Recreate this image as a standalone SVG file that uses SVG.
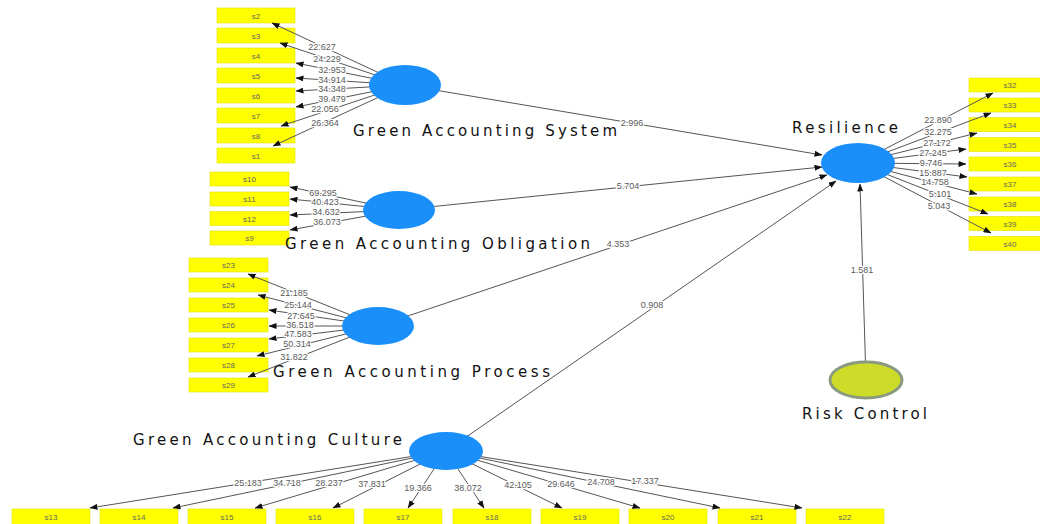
<svg xmlns="http://www.w3.org/2000/svg" width="1040" height="524" viewBox="0 0 1040 524">
<style>
.ln{stroke:#555;stroke-width:1;fill:none;marker-end:url(#ah)}
.lbl{font-family:"Liberation Sans",Arial,sans-serif;font-size:9px;fill:#5a5a5a;text-anchor:middle;stroke:#fff;stroke-width:2.5px;paint-order:stroke;stroke-linejoin:round}
.box{fill:#ffff00;stroke:#e2e200;stroke-width:0.6}
.bt{font-family:"Liberation Sans",Arial,sans-serif;font-size:8px;fill:#666;text-anchor:middle}
.lv{fill:#1a8ffa}
.rc{fill:#cddc28;stroke:#8a9a80;stroke-width:3}
.nt{font-family:"DejaVu Sans","Liberation Sans",sans-serif;font-size:15px;fill:#111}
</style>
<defs>
<marker id="ah" markerWidth="8" markerHeight="6" refX="7.5" refY="3" orient="auto" markerUnits="userSpaceOnUse"><path d="M0,0 L8,3 L0,6 z" fill="#111"/></marker>
</defs>
<rect width="1040" height="524" fill="#fff"/>
<!-- GAS indicators -->
<g id="ind-s2"><rect class="box" x="217" y="8" width="78" height="15"/><text class="bt" x="256" y="18.5">s2</text></g>
<g id="ind-s3"><rect class="box" x="217" y="28" width="78" height="15"/><text class="bt" x="256" y="38.5">s3</text></g>
<g id="ind-s4"><rect class="box" x="217" y="48" width="78" height="15"/><text class="bt" x="256" y="58.5">s4</text></g>
<g id="ind-s5"><rect class="box" x="217" y="68" width="78" height="15"/><text class="bt" x="256" y="78.5">s5</text></g>
<g id="ind-s6"><rect class="box" x="217" y="88" width="78" height="15"/><text class="bt" x="256" y="98.5">s6</text></g>
<g id="ind-s7"><rect class="box" x="217" y="108" width="78" height="15"/><text class="bt" x="256" y="118.5">s7</text></g>
<g id="ind-s8"><rect class="box" x="217" y="128" width="78" height="15"/><text class="bt" x="256" y="138.5">s8</text></g>
<g id="ind-s1"><rect class="box" x="217" y="148" width="78" height="15"/><text class="bt" x="256" y="158.5">s1</text></g>
<!-- GAO indicators -->
<g id="ind-s10"><rect class="box" x="210" y="172" width="79" height="14"/><text class="bt" x="249.5" y="182">s10</text></g>
<g id="ind-s11"><rect class="box" x="210" y="192" width="79" height="14"/><text class="bt" x="249.5" y="202">s11</text></g>
<g id="ind-s12"><rect class="box" x="210" y="211.5" width="79" height="14"/><text class="bt" x="249.5" y="221.5">s12</text></g>
<g id="ind-s9"><rect class="box" x="210" y="231" width="79" height="14"/><text class="bt" x="249.5" y="241">s9</text></g>
<!-- GAP indicators -->
<g id="ind-s23"><rect class="box" x="189" y="258" width="79" height="14"/><text class="bt" x="228.5" y="268">s23</text></g>
<g id="ind-s24"><rect class="box" x="189" y="278" width="79" height="14"/><text class="bt" x="228.5" y="288">s24</text></g>
<g id="ind-s25"><rect class="box" x="189" y="298" width="79" height="14"/><text class="bt" x="228.5" y="308">s25</text></g>
<g id="ind-s26"><rect class="box" x="189" y="318" width="79" height="14"/><text class="bt" x="228.5" y="328">s26</text></g>
<g id="ind-s27"><rect class="box" x="189" y="338" width="79" height="14"/><text class="bt" x="228.5" y="348">s27</text></g>
<g id="ind-s28"><rect class="box" x="189" y="358" width="79" height="14"/><text class="bt" x="228.5" y="368">s28</text></g>
<g id="ind-s29"><rect class="box" x="189" y="378" width="79" height="14"/><text class="bt" x="228.5" y="388">s29</text></g>
<!-- GAC indicators -->
<g id="ind-s13"><rect class="box" x="12" y="509" width="78" height="16"/><text class="bt" x="51" y="520">s13</text></g>
<g id="ind-s14"><rect class="box" x="100" y="509" width="78" height="16"/><text class="bt" x="139" y="520">s14</text></g>
<g id="ind-s15"><rect class="box" x="188" y="509" width="78" height="16"/><text class="bt" x="227" y="520">s15</text></g>
<g id="ind-s16"><rect class="box" x="276" y="509" width="78" height="16"/><text class="bt" x="315" y="520">s16</text></g>
<g id="ind-s17"><rect class="box" x="364" y="509" width="78" height="16"/><text class="bt" x="403" y="520">s17</text></g>
<g id="ind-s18"><rect class="box" x="453" y="509" width="78" height="16"/><text class="bt" x="492" y="520">s18</text></g>
<g id="ind-s19"><rect class="box" x="541" y="509" width="78" height="16"/><text class="bt" x="580" y="520">s19</text></g>
<g id="ind-s20"><rect class="box" x="629" y="509" width="78" height="16"/><text class="bt" x="668" y="520">s20</text></g>
<g id="ind-s21"><rect class="box" x="718" y="509" width="78" height="16"/><text class="bt" x="757" y="520">s21</text></g>
<g id="ind-s22"><rect class="box" x="806" y="509" width="78" height="16"/><text class="bt" x="845" y="520">s22</text></g>
<!-- Resilience indicators -->
<g id="ind-s32"><rect class="box" x="969" y="78" width="78" height="14"/><text class="bt" x="1010" y="88">s32</text></g>
<g id="ind-s33"><rect class="box" x="969" y="98" width="78" height="14"/><text class="bt" x="1010" y="108">s33</text></g>
<g id="ind-s34"><rect class="box" x="969" y="117.5" width="78" height="14"/><text class="bt" x="1010" y="127.5">s34</text></g>
<g id="ind-s35"><rect class="box" x="969" y="137.5" width="78" height="14"/><text class="bt" x="1010" y="147.5">s35</text></g>
<g id="ind-s36"><rect class="box" x="969" y="157" width="78" height="14"/><text class="bt" x="1010" y="167">s36</text></g>
<g id="ind-s37"><rect class="box" x="969" y="177" width="78" height="14"/><text class="bt" x="1010" y="187">s37</text></g>
<g id="ind-s38"><rect class="box" x="969" y="197" width="78" height="14"/><text class="bt" x="1010" y="207">s38</text></g>
<g id="ind-s39"><rect class="box" x="969" y="216.5" width="78" height="14"/><text class="bt" x="1010" y="226.5">s39</text></g>
<g id="ind-s40"><rect class="box" x="969" y="236.5" width="78" height="14"/><text class="bt" x="1010" y="246.5">s40</text></g>
<g id="connectors">
<line class="ln" x1="405" y1="85" x2="272" y2="23"/>
<line class="ln" x1="405" y1="85" x2="280" y2="43"/>
<line class="ln" x1="405" y1="85" x2="296" y2="63"/>
<line class="ln" x1="405" y1="85" x2="296" y2="78"/>
<line class="ln" x1="405" y1="85" x2="296" y2="91"/>
<line class="ln" x1="405" y1="85" x2="296" y2="107"/>
<line class="ln" x1="405" y1="85" x2="281" y2="126"/>
<line class="ln" x1="405" y1="85" x2="273" y2="146"/>
<line class="ln" x1="399" y1="210" x2="290" y2="187"/>
<line class="ln" x1="399" y1="210" x2="290" y2="199"/>
<line class="ln" x1="399" y1="210" x2="290" y2="215"/>
<line class="ln" x1="399" y1="210" x2="290" y2="230"/>
<line class="ln" x1="378" y1="326" x2="248" y2="274"/>
<line class="ln" x1="378" y1="326" x2="258" y2="295"/>
<line class="ln" x1="378" y1="326" x2="269" y2="310"/>
<line class="ln" x1="378" y1="326" x2="269" y2="326"/>
<line class="ln" x1="378" y1="326" x2="269" y2="339"/>
<line class="ln" x1="378" y1="326" x2="257" y2="356"/>
<line class="ln" x1="378" y1="326" x2="248" y2="377"/>
<line class="ln" x1="446" y1="451" x2="90" y2="508"/>
<line class="ln" x1="446" y1="451" x2="173" y2="508"/>
<line class="ln" x1="446" y1="451" x2="255" y2="508"/>
<line class="ln" x1="446" y1="451" x2="333" y2="508"/>
<line class="ln" x1="446" y1="451" x2="408" y2="508"/>
<line class="ln" x1="446" y1="451" x2="484" y2="508"/>
<line class="ln" x1="446" y1="451" x2="562" y2="508"/>
<line class="ln" x1="446" y1="451" x2="640" y2="508"/>
<line class="ln" x1="446" y1="451" x2="720" y2="508"/>
<line class="ln" x1="446" y1="451" x2="802" y2="508"/>
<line class="ln" x1="858" y1="163" x2="993" y2="93"/>
<line class="ln" x1="858" y1="163" x2="991" y2="113"/>
<line class="ln" x1="858" y1="163" x2="977" y2="133"/>
<line class="ln" x1="858" y1="163" x2="966" y2="149"/>
<line class="ln" x1="858" y1="163" x2="966" y2="164"/>
<line class="ln" x1="858" y1="163" x2="967" y2="177"/>
<line class="ln" x1="858" y1="163" x2="977" y2="194"/>
<line class="ln" x1="858" y1="163" x2="988" y2="214"/>
<line class="ln" x1="858" y1="163" x2="991" y2="233"/>
<line class="ln" x1="405" y1="85" x2="822" y2="155"/>
<line class="ln" x1="399" y1="210" x2="822" y2="167"/>
<line class="ln" x1="378" y1="326" x2="827" y2="175"/>
<line class="ln" x1="446" y1="451" x2="836" y2="181"/>
<line class="ln" x1="866" y1="380" x2="860" y2="184"/>
<text class="lbl" x="322" y="50">22.627</text>
<text class="lbl" x="327" y="62">24.229</text>
<text class="lbl" x="332" y="73">32.953</text>
<text class="lbl" x="332" y="83">34.914</text>
<text class="lbl" x="332" y="92">34.348</text>
<text class="lbl" x="332" y="102">39.479</text>
<text class="lbl" x="325" y="112">22.056</text>
<text class="lbl" x="325" y="126">26.364</text>
<text class="lbl" x="323" y="196">69.295</text>
<text class="lbl" x="325" y="205">40.423</text>
<text class="lbl" x="326" y="215">34.632</text>
<text class="lbl" x="327" y="225">36.073</text>
<text class="lbl" x="294" y="296">21.185</text>
<text class="lbl" x="298" y="308">25.144</text>
<text class="lbl" x="301" y="319">27.645</text>
<text class="lbl" x="300" y="328">36.518</text>
<text class="lbl" x="298" y="337">47.583</text>
<text class="lbl" x="297" y="347">50.314</text>
<text class="lbl" x="294" y="360">31.822</text>
<text class="lbl" x="248" y="486">25.183</text>
<text class="lbl" x="287" y="486">34.718</text>
<text class="lbl" x="329" y="486">28.237</text>
<text class="lbl" x="372" y="487">37.831</text>
<text class="lbl" x="418" y="491">19.366</text>
<text class="lbl" x="468" y="491">38.072</text>
<text class="lbl" x="518" y="488">42.105</text>
<text class="lbl" x="561" y="487">29.646</text>
<text class="lbl" x="601" y="485">24.708</text>
<text class="lbl" x="645" y="484">17.337</text>
<text class="lbl" x="938" y="123">22.890</text>
<text class="lbl" x="938" y="135">32.275</text>
<text class="lbl" x="937" y="146">27.172</text>
<text class="lbl" x="933" y="156">27.245</text>
<text class="lbl" x="931" y="166">9.746</text>
<text class="lbl" x="933" y="176">15.887</text>
<text class="lbl" x="935" y="185">14.758</text>
<text class="lbl" x="940" y="197">5.101</text>
<text class="lbl" x="939" y="209">5.043</text>
<text class="lbl" x="632" y="126">2.996</text>
<text class="lbl" x="628" y="189">5.704</text>
<text class="lbl" x="618" y="247">4.353</text>
<text class="lbl" x="652" y="308">0.908</text>
<text class="lbl" x="862" y="273">1.581</text>
</g>
<g id="node-gas"><ellipse class="lv" cx="405" cy="85" rx="36" ry="20"/><text class="nt" x="353" y="136" textLength="264" lengthAdjust="spacing">Green Accounting System</text></g>
<g id="node-gao"><ellipse class="lv" cx="399" cy="210" rx="36" ry="19"/><text class="nt" x="285" y="249" textLength="305" lengthAdjust="spacing">Green Accounting Obligation</text></g>
<g id="node-gap"><ellipse class="lv" cx="378" cy="326" rx="36" ry="19"/><text class="nt" x="273" y="377" textLength="277" lengthAdjust="spacing">Green Accounting Process</text></g>
<g id="node-gac"><ellipse class="lv" cx="446" cy="451" rx="37" ry="19"/><text class="nt" x="133" y="445" textLength="269" lengthAdjust="spacing">Green Accounting Culture</text></g>
<g id="node-res"><ellipse class="lv" cx="858" cy="163" rx="37" ry="20"/><text class="nt" x="792" y="133" textLength="106" lengthAdjust="spacing">Resilience</text></g>
<g id="node-rc"><ellipse class="rc" cx="866" cy="380" rx="36" ry="18"/><text class="nt" x="802" y="419" textLength="125" lengthAdjust="spacing">Risk Control</text></g>
</svg>
